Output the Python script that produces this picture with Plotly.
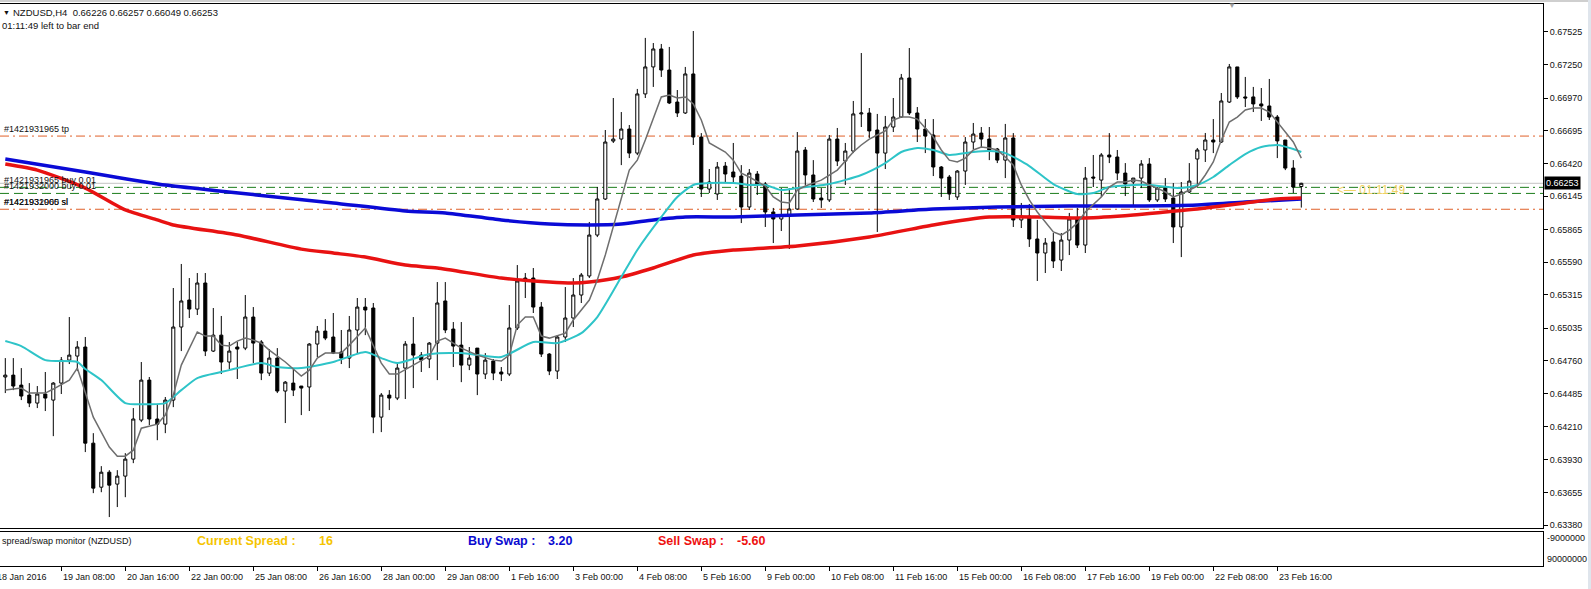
import plotly.graph_objects as go

# ---------------- data ----------------
bars = list(range(163))  # H4 bars, 18 Jan 04:00 .. 24 Feb 04:00

opens = [0.64625,0.64641,0.64557,0.64473,0.64406,0.64482,0.64431,0.64574,0.64767,0.64801,
         0.64877,0.64069,0.63699,0.63825,0.63725,0.63792,0.63935,0.64263,0.64599,0.64272,
         0.64229,0.64431,0.65045,0.65272,0.65196,0.65415,0.64843,0.64977,0.64751,0.64877,
         0.64868,0.65129,0.64919,0.64658,0.64784,0.64507,0.64574,0.64549,0.64541,0.64902,
         0.65011,0.64961,0.64835,0.64784,0.65020,0.65213,0.65205,0.64288,0.64473,0.64448,
         0.64700,0.64902,0.64809,0.64776,0.64910,0.65264,0.65028,0.64893,0.64725,0.64868,
         0.64650,0.64759,0.64667,0.64650,0.65037,0.65457,0.65457,0.65213,0.64818,0.64675,
         0.64961,0.65121,0.65314,0.65474,0.65818,0.66121,0.66608,0.66625,0.66709,0.66507,
         0.67004,0.67231,0.67382,0.67205,0.66936,0.66844,0.67172,0.66642,0.66205,0.66163,
         0.66398,0.66348,0.66314,0.66054,0.66331,0.66247,0.66012,0.65953,0.65987,0.66037,
         0.66533,0.66323,0.66129,0.66113,0.66625,0.66440,0.66524,0.66836,0.66844,0.66701,
         0.66507,0.66726,0.66810,0.67138,0.66844,0.66709,0.66659,0.66390,0.66306,0.66138,
         0.66356,0.66600,0.66675,0.66625,0.66541,0.66448,0.66634,0.65945,0.65978,0.65785,
         0.65667,0.65760,0.65608,0.65776,0.65953,0.65734,0.66306,0.66280,0.66491,0.66474,
         0.66339,0.66264,0.66297,0.66415,0.66113,0.66213,0.66129,0.65886,0.66180,0.66457,
         0.66533,0.66617,0.66600,0.66936,0.67231,0.66979,0.66979,0.66920,0.66903,0.66810,
         0.66617,0.66381,0.66226]
highs = [0.64784,0.64784,0.64700,0.64574,0.64549,0.64667,0.64582,0.64793,0.65129,0.64927,
         0.64961,0.64153,0.63876,0.63842,0.63842,0.63985,0.64364,0.64751,0.64625,0.64397,
         0.64457,0.65373,0.65575,0.65457,0.65499,0.65499,0.65205,0.65138,0.64919,0.64919,
         0.65314,0.65213,0.64935,0.64860,0.64868,0.64591,0.64692,0.64549,0.64910,0.65054,
         0.65112,0.65163,0.65020,0.65138,0.65289,0.65289,0.65247,0.64490,0.64515,0.64751,
         0.64927,0.65129,0.64835,0.64919,0.65423,0.65423,0.65087,0.65087,0.64877,0.64868,
         0.64826,0.64776,0.64709,0.65230,0.65566,0.65499,0.65541,0.65255,0.64826,0.64977,
         0.65381,0.65457,0.65499,0.65928,0.66222,0.66701,0.66970,0.66852,0.66743,0.67046,
         0.67475,0.67432,0.67424,0.67399,0.67037,0.67231,0.67533,0.66675,0.66373,0.66432,
         0.66432,0.66592,0.66406,0.66373,0.66356,0.66264,0.66046,0.66213,0.66213,0.66684,
         0.66558,0.66448,0.66213,0.66659,0.66718,0.66592,0.66945,0.67348,0.66886,0.66836,
         0.66819,0.66970,0.67172,0.67390,0.66894,0.66793,0.66793,0.66398,0.66323,0.66364,
         0.66642,0.66760,0.66726,0.66726,0.66550,0.66752,0.66675,0.66088,0.66079,0.65945,
         0.65793,0.65835,0.65835,0.66004,0.66046,0.66390,0.66491,0.66507,0.66675,0.66533,
         0.66423,0.66297,0.66448,0.66465,0.66222,0.66297,0.66255,0.66264,0.66423,0.66550,
         0.66676,0.66793,0.67012,0.67256,0.67231,0.67147,0.67063,0.67054,0.67130,0.66827,
         0.66617,0.66448,0.66257]
lows = [0.64490,0.64515,0.64431,0.64372,0.64364,0.64339,0.64128,0.64482,0.64734,0.64675,
        0.63994,0.63649,0.63657,0.63448,0.63532,0.63615,0.63901,0.64246,0.64221,0.64094,
        0.64153,0.64372,0.64843,0.65121,0.65146,0.64801,0.64835,0.64650,0.64692,0.64608,
        0.64851,0.64742,0.64599,0.64633,0.64490,0.64238,0.64465,0.64305,0.64339,0.64793,
        0.64935,0.64818,0.64734,0.64700,0.64826,0.64977,0.64153,0.64162,0.64347,0.64431,
        0.64440,0.64532,0.64667,0.64700,0.64599,0.64994,0.64709,0.64582,0.64683,0.64473,
        0.64608,0.64599,0.64591,0.64633,0.65020,0.65289,0.65163,0.64793,0.64641,0.64608,
        0.64919,0.65045,0.65247,0.65457,0.65801,0.66113,0.66592,0.66406,0.66465,0.66490,
        0.66970,0.67063,0.67147,0.66919,0.66810,0.66836,0.66575,0.66138,0.66171,0.66113,
        0.66264,0.66264,0.65919,0.66029,0.66155,0.65886,0.65751,0.65852,0.65701,0.66029,
        0.66239,0.66096,0.66046,0.66096,0.66398,0.66239,0.66507,0.66726,0.66634,0.65844,
        0.66373,0.66684,0.66802,0.66827,0.66600,0.66507,0.66314,0.66138,0.66113,0.66113,
        0.66239,0.66541,0.66558,0.66448,0.66423,0.66297,0.65886,0.65877,0.65718,0.65432,
        0.65499,0.65541,0.65516,0.65650,0.65709,0.65667,0.66222,0.66138,0.66423,0.66280,
        0.66146,0.66062,0.66213,0.66096,0.66096,0.66096,0.65751,0.65633,0.66171,0.66222,
        0.66432,0.66507,0.66592,0.66928,0.66962,0.66894,0.66852,0.66777,0.66785,0.66465,
        0.66364,0.66171,0.66049]
closes = [0.64641,0.64549,0.64465,0.64406,0.64482,0.64448,0.64574,0.64767,0.64809,0.64877,
          0.64069,0.63691,0.63825,0.63716,0.63792,0.63935,0.64272,0.64599,0.64272,0.64229,
          0.64431,0.65045,0.65264,0.65196,0.65415,0.64843,0.64977,0.64751,0.64843,0.64860,
          0.65129,0.64910,0.64658,0.64784,0.64507,0.64582,0.64515,0.64532,0.64902,0.65011,
          0.64952,0.64826,0.64784,0.65020,0.65213,0.65188,0.64288,0.64473,0.64448,0.64700,
          0.64902,0.64809,0.64767,0.64910,0.65247,0.65020,0.64885,0.64725,0.64784,0.64650,
          0.64767,0.64658,0.64650,0.65037,0.65432,0.65440,0.65213,0.64818,0.64675,0.64961,
          0.65121,0.65314,0.65482,0.65818,0.66121,0.66600,0.66625,0.66709,0.66507,0.67004,
          0.67231,0.67382,0.67205,0.66928,0.66844,0.67172,0.66642,0.66205,0.66264,0.66390,
          0.66331,0.66306,0.66054,0.66339,0.66247,0.66012,0.65953,0.65987,0.66037,0.66524,
          0.66323,0.66121,0.66113,0.66625,0.66440,0.66524,0.66836,0.66844,0.66693,0.66507,
          0.66726,0.66810,0.67138,0.66844,0.66709,0.66650,0.66390,0.66297,0.66163,0.66356,
          0.66600,0.66667,0.66625,0.66533,0.66448,0.66634,0.65945,0.65978,0.65785,0.65667,
          0.65751,0.65600,0.65776,0.65953,0.65734,0.66297,0.66297,0.66491,0.66474,0.66339,
          0.66247,0.66297,0.66415,0.66113,0.66213,0.66121,0.65886,0.66180,0.66272,0.66533,
          0.66617,0.66600,0.66945,0.67231,0.66979,0.66970,0.66920,0.66903,0.66810,0.66609,
          0.66381,0.66222,0.66253]

# moving averages read at sample bars
ma_blue_bar = [0,10,20,27,35,41,50,55,62,68,73,77,81,85,91,99,108,116,124,133,141,149,155,162]
ma_blue = [0.66457,0.66348,0.66238,0.66187,0.66129,0.66088,0.66021,0.66004,0.65945,0.65911,
           0.65903,0.65911,0.65945,0.65970,0.65970,0.65987,0.66004,0.66037,0.66054,0.66062,
           0.66062,0.66071,0.66096,0.66121]
ma_red_bar = [0,4,10,15,19,21,29,37,41,45,50,54,62,68,71,73,77,81,86,91,99,108,116,123,129,
              135,141,145,149,155,159,162]
ma_red = [0.66415,0.66364,0.66213,0.66029,0.65945,0.65903,0.65818,0.65700,0.65667,0.65633,
          0.65566,0.65541,0.65457,0.65423,0.65415,0.65423,0.65465,0.65541,0.65650,0.65692,
          0.65726,0.65801,0.65903,0.65970,0.65970,0.65962,0.65987,0.66012,0.66037,0.66088,
          0.66121,0.66129]
ma_cyan_bar = [0,2,5,9,10,12,15,18,20,22,24,28,32,34,37,41,45,47,49,53,57,62,66,69,72,74,77,
               79,82,84,86,88,91,93,95,97,99,103,107,110,112,114,116,118,121,123,125,128,131,
               134,136,138,141,143,147,149,151,153,155,157,159,161,162]
ma_cyan = [0.64927,0.64885,0.64767,0.64751,0.64692,0.64599,0.64406,0.64397,0.64406,0.64515,
           0.64616,0.64683,0.64742,0.64709,0.64700,0.64751,0.64835,0.64784,0.64742,0.64818,
           0.64826,0.64793,0.64919,0.64910,0.64994,0.65129,0.65465,0.65692,0.65970,0.66138,
           0.66239,0.66255,0.66255,0.66239,0.66239,0.66196,0.66213,0.66247,0.66323,0.66423,
           0.66516,0.66550,0.66533,0.66491,0.66516,0.66524,0.66507,0.66398,0.66247,0.66163,
           0.66171,0.66222,0.66239,0.66239,0.66213,0.66239,0.66306,0.66406,0.66499,0.66558,
           0.66575,0.66541,0.66516]
ma_gray_bar = [0,2,3,5,6,8,9,11,13,14,15,16,17,19,20,21,22,24,25,26,27,28,29,30,31,32,33,35,
               37,38,39,40,42,43,45,47,48,49,51,53,54,55,57,59,61,62,63,64,65,66,67,68,70,71,
               73,74,75,77,78,79,80,82,83,84,85,86,87,88,90,91,92,93,95,96,97,98,99,100,102,
               104,106,107,108,109,110,111,112,113,114,115,116,117,118,119,120,121,122,123,
               124,125,126,127,128,129,130,131,132,133,134,135,137,138,139,140,141,142,143,
               144,145,146,147,148,149,150,151,152,153,154,155,156,157,158,159,160,161,162]
ma_gray = [0.64515,0.64532,0.64490,0.64490,0.64524,0.64599,0.64700,0.64288,0.64036,0.63960,
           0.63960,0.64010,0.64195,0.64229,0.64305,0.64473,0.64725,0.65003,0.64969,0.64969,
           0.64893,0.64885,0.64927,0.64952,0.64935,0.64910,0.64851,0.64751,0.64633,0.64683,
           0.64784,0.64826,0.64826,0.64893,0.65037,0.64742,0.64650,0.64650,0.64725,0.64801,
           0.64927,0.64952,0.64868,0.64809,0.64767,0.64759,0.64809,0.65062,0.65129,0.65129,
           0.64969,0.64952,0.64994,0.65104,0.65272,0.65440,0.65650,0.66113,0.66364,0.66448,
           0.66617,0.66979,0.66995,0.66970,0.66979,0.66920,0.66785,0.66592,0.66516,0.66448,
           0.66339,0.66306,0.66230,0.66138,0.66096,0.66088,0.66196,0.66230,0.66280,0.66364,
           0.66516,0.66575,0.66625,0.66659,0.66693,0.66785,0.66810,0.66810,0.66793,0.66718,
           0.66642,0.66533,0.66448,0.66432,0.66465,0.66533,0.66558,0.66550,0.66533,0.66474,
           0.66406,0.66239,0.66113,0.66012,0.65928,0.65844,0.65818,0.65860,0.65919,0.66012,
           0.66138,0.66222,0.66264,0.66264,0.66280,0.66272,0.66239,0.66213,0.66180,0.66138,
           0.66163,0.66196,0.66230,0.66323,0.66432,0.66617,0.66768,0.66810,0.66869,0.66886,
           0.66886,0.66852,0.66768,0.66684,0.66600,0.66465]

price_ticks = [0.67525,0.67250,0.66970,0.66695,0.66420,0.66145,0.65865,0.65590,0.65315,
               0.65035,0.64760,0.64485,0.64210,0.63930,0.63655,0.63380]
time_label_bar = [-1,7,15,23,31,39,47,55,63,71,79,87,95,103,111,119,127,135,143,151,159]
time_labels = ["18 Jan 2016","19 Jan 08:00","20 Jan 16:00","22 Jan 00:00","25 Jan 08:00",
               "26 Jan 16:00","28 Jan 00:00","29 Jan 08:00","1 Feb 16:00","3 Feb 00:00",
               "4 Feb 08:00","5 Feb 16:00","9 Feb 00:00","10 Feb 08:00","11 Feb 16:00",
               "15 Feb 00:00","16 Feb 08:00","17 Feb 16:00","19 Feb 00:00","22 Feb 08:00",
               "23 Feb 16:00"]

bid = 0.66253
tp_level = 0.66650
sl_level = 0.66035
buy1_level = 0.66219
buy2_level = 0.66168
ohlc_title = "NZDUSD,H4\u00a0\u00a00.66226 0.66257 0.66049 0.66253"
spread, buy_swap, sell_swap = "16", "3.20", "-5.60"

# ---------------- geometry helpers ----------------
W, H = 1591, 589
PL, PR, PT, PB = 0, 1543, 4, 566          # plot area in pixels
def px(xp):  # pixel x -> paper
    return (xp - PL) / (PR - PL)
def py(yp):  # pixel y -> paper
    return (PB - yp) / (PB - PT)

FONT = "Liberation Sans, Arial, sans-serif"
XR = [-0.6625, 192.2125]
BAR_PX = (PR - PL) / (XR[1] - XR[0])

fig = go.Figure()

fig.add_trace(go.Candlestick(
    x=bars, open=opens, high=highs, low=lows, close=closes,
    increasing=dict(fillcolor="white", line=dict(color="black", width=1)),
    decreasing=dict(fillcolor="black", line=dict(color="black", width=1)),
    whiskerwidth=0, showlegend=False, hoverinfo="skip", xaxis="x", yaxis="y"))

fig.add_trace(go.Scatter(x=ma_blue_bar, y=ma_blue, mode="lines", line=dict(color="#0a0ad6", width=3.5, shape="spline", smoothing=0.6),
                         showlegend=False, hoverinfo="skip"))
fig.add_trace(go.Scatter(x=ma_red_bar, y=ma_red, mode="lines", line=dict(color="#e81212", width=3.5, shape="spline", smoothing=0.6),
                         showlegend=False, hoverinfo="skip"))
fig.add_trace(go.Scatter(x=ma_cyan_bar, y=ma_cyan, mode="lines", line=dict(color="#2ec4c8", width=2, shape="spline", smoothing=0.6),
                         showlegend=False, hoverinfo="skip"))
fig.add_trace(go.Scatter(x=ma_gray_bar, y=ma_gray, mode="lines", line=dict(color="#6e6e6e", width=1.5),
                         showlegend=False, hoverinfo="skip"))
# invisible trace for the sub window
fig.add_trace(go.Scatter(x=[0], y=[0.5], mode="markers", marker=dict(opacity=0), xaxis="x2", yaxis="y2",
                         showlegend=False, hoverinfo="skip"))

shapes = []
def hline(level, color, dash, width=1):
    shapes.append(dict(type="line", xref="paper", x0=0, x1=1, yref="y", y0=level, y1=level,
                       line=dict(color=color, width=width, dash=dash), layer="below"))
hline(bid, "#c4c4c4", "solid")
hline(tp_level, "#e0602a", "9px,4px,2px,4px")
hline(sl_level, "#e0602a", "9px,4px,2px,4px")
hline(buy1_level, "#1b7d1b", "9px,4px,2px,4px")
hline(buy2_level, "#1b7d1b", "9px,5px")
# window chrome
shapes.append(dict(type="rect", xref="paper", yref="paper", x0=px(0), x1=px(W), y0=py(2), y1=py(0),
                   fillcolor="#cfcfcf", line=dict(width=0), layer="above"))
shapes.append(dict(type="rect", xref="paper", yref="paper", x0=px(1588), x1=px(W), y0=py(H), y1=py(0),
                   fillcolor="#dfe5ec", line=dict(width=0), layer="above"))

ann = []
def txt(text, x, y, size=9, color="#111111", xanchor="left", yanchor="middle", xref="paper", yref="paper",
        bold=False, **kw):
    d = dict(text=("<b>%s</b>" % text) if bold else text, x=x, y=y, xref=xref, yref=yref,
             xanchor=xanchor, yanchor=yanchor, showarrow=False,
             font=dict(family=FONT, size=size, color=color))
    d.update(kw)
    ann.append(d)

txt("\u25bc", px(1), py(12.5), size=7, color="#111111")
txt(ohlc_title, px(11), py(12.5), size=9.5)
txt("01:11:49 left to bar end", px(0), py(25.5), size=9.5)
txt("\u25bc", px(1226), py(5), size=8, color="#a0a0a0")

txt("#1421931965 tp", px(2), tp_level, yref="y", yanchor="bottom")
txt("#1421931965 buy 0.01", px(2), buy1_level, yref="y", yanchor="bottom")
txt("#1421932000 buy 0.01", px(2), buy2_level, yref="y", yanchor="bottom")
txt("#1421931965 sl", px(2), sl_level, yref="y", yanchor="bottom")
txt("#1421932000 sl", px(2), sl_level, yref="y", yanchor="bottom")

txt("<\u2014 01:11:49", px(1335), py(190), size=12, color="#f0d264")

txt("%.5f" % bid, 1, bid, yref="y", color="white", bgcolor="black", borderpad=1, xshift=1)

# sub window
txt("spread/swap monitor (NZDUSD)", px(0), py(541))
txt("Current Spread :", px(195), py(541), size=12.5, color="#f5c400", bold=True)
txt(spread, px(317), py(541), size=12.5, color="#f5c400", bold=True)
txt("Buy Swap :", px(466), py(541), size=12.5, color="#0a0ad0", bold=True)
txt(buy_swap, px(546), py(541), size=12.5, color="#0a0ad0", bold=True)
txt("Sell Swap :", px(656), py(541), size=12.5, color="#ee1111", bold=True)
txt(sell_swap, px(735), py(541), size=12.5, color="#ee1111", bold=True)
txt("-9000000", 1, py(538), xshift=2)
txt("90000000", 1, py(559), xshift=2)

# time labels: left edge at the bar position (paper coords so the first, partly cut one still shows)
for kb, lab in zip(time_label_bar, time_labels):
    xp = PL + (kb - XR[0]) * BAR_PX
    txt(lab, px(xp), py(576.5), xshift=(-2 if kb < 0 else 0))

fig.update_layout(
    width=W, height=H,
    margin=dict(l=PL, r=W - PR, t=PT, b=H - PB, pad=0),
    paper_bgcolor="white", plot_bgcolor="white",
    boxgap=0.45,
    showlegend=False,
    hovermode=False,
    shapes=shapes, annotations=ann,
    xaxis=dict(domain=[0, 1], anchor="y", range=XR, showline=True, linecolor="black", linewidth=1,
               mirror=True, ticks="", showticklabels=False, showgrid=False, zeroline=False,
               rangeslider=dict(visible=False), fixedrange=True),
    yaxis=dict(domain=[py(528), 1], anchor="x", range=[0.63356, 0.67760], side="right",
               showline=True, linecolor="black", linewidth=1, ticks="outside", ticklen=4,
               tickcolor="black", tickvals=price_ticks, ticktext=["%.5f" % v for v in price_ticks],
               tickfont=dict(family=FONT, size=9, color="#111111"), showgrid=False, zeroline=False,
               fixedrange=True),
    xaxis2=dict(domain=[0, 1], anchor="y2", range=XR, showline=True, linecolor="black", linewidth=1,
                mirror=True, ticks="outside", ticklen=4, tickcolor="black", tickvals=time_label_bar,
                showticklabels=False, showgrid=False, zeroline=False, fixedrange=True),
    yaxis2=dict(domain=[0, py(532)], anchor="x2", range=[0, 1], side="right", showline=True,
                linecolor="black", linewidth=1, ticks="", showticklabels=False, showgrid=False,
                zeroline=False, fixedrange=True),
)

fig.write_html("out.html")
